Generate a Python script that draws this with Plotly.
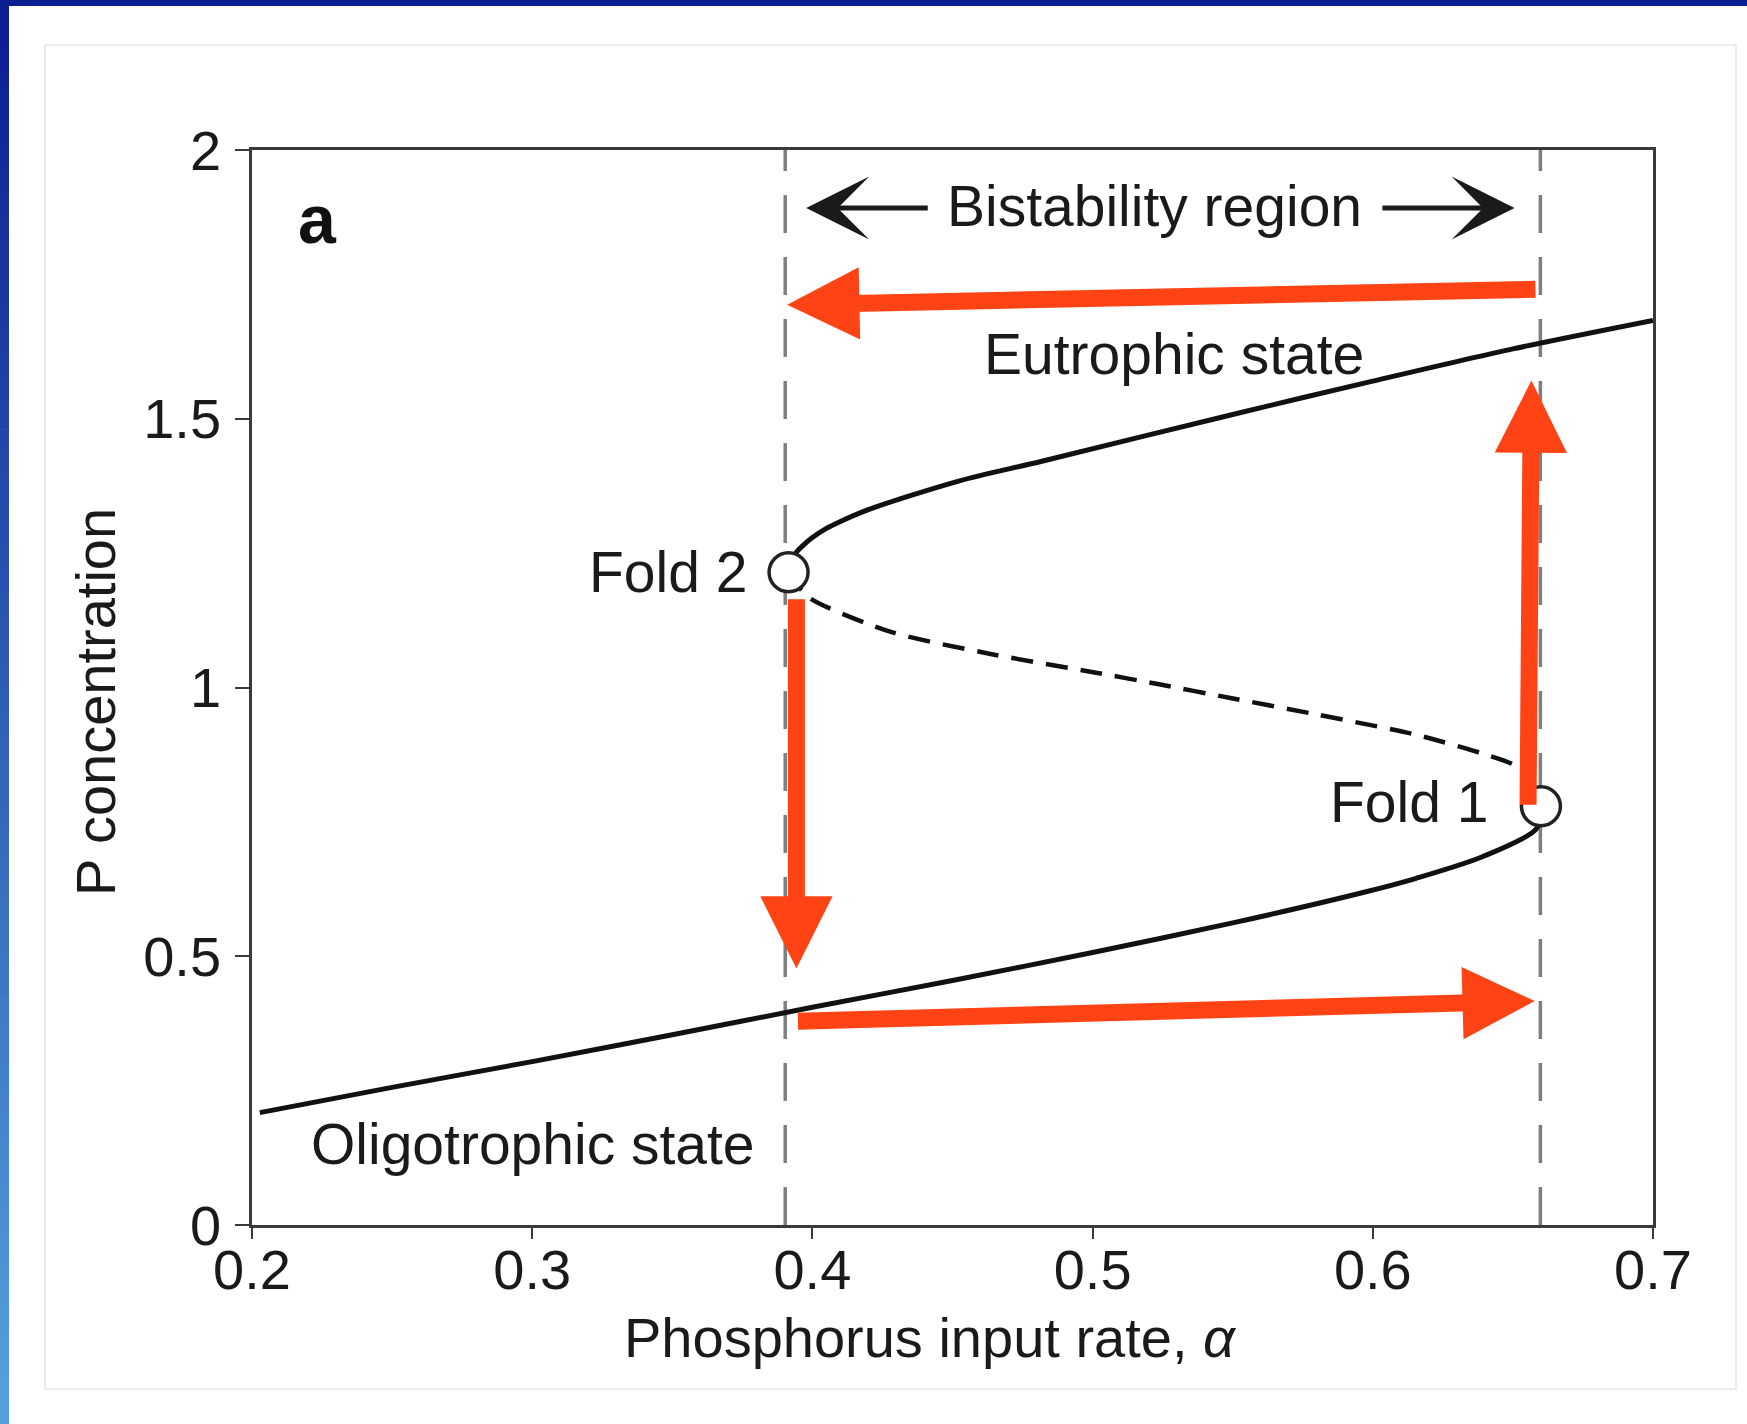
import plotly.graph_objects as go

# ---------------- data ----------------
lower_x = [0.2028, 0.25, 0.30, 0.35, 0.40, 0.45, 0.50, 0.55, 0.5976, 0.6155, 0.6391, 0.6584, 0.6600]
lower_y = [0.209, 0.256, 0.304, 0.354, 0.405, 0.455, 0.507, 0.562, 0.620, 0.645, 0.685, 0.737, 0.779]

upper_x = [0.3915, 0.3925, 0.3945, 0.397, 0.40, 0.405, 0.41, 0.42, 0.4522, 0.4819, 0.55, 0.60, 0.65, 0.70]
upper_y = [1.2145, 1.236, 1.253, 1.266, 1.279, 1.296, 1.309, 1.331, 1.384, 1.421, 1.508, 1.570, 1.630, 1.683]

middle_x = [0.3915, 0.3986, 0.4283, 0.464, 0.4997, 0.5237, 0.5487, 0.5798, 0.6155, 0.6391, 0.6523, 0.6600]
middle_y = [1.2145, 1.168, 1.103, 1.062, 1.029, 1.006, 0.981, 0.950, 0.912, 0.877, 0.850, 0.779]

fold_x = [0.3915, 0.6600]
fold_y = [1.2145, 0.779]
fold_labels = ["Fold 2", "Fold 1"]

bistab_bounds = [0.3903, 0.6598]

# red hysteresis arrows: (tail x, tail y, head x, head y)
red_tail_x = [0.6586, 0.6554, 0.3943, 0.3943]
red_tail_y = [1.741, 0.779, 1.167, 0.379]
red_head_x = [0.391, 0.6566, 0.3943, 0.6578]
red_head_y = [1.712, 1.571, 0.477, 0.4166]

x_ticks = [0.2, 0.3, 0.4, 0.5, 0.6, 0.7]
x_tick_text = ["0.2", "0.3", "0.4", "0.5", "0.6", "0.7"]
y_ticks = [0, 0.5, 1, 1.5, 2]
y_tick_text = ["0", "0.5", "1", "1.5", "2"]

# ---------------- figure geometry ----------------
FW, FH = 1747, 1424
L, R, T, B = 252, 1653, 150, 1225
PW, PH = R - L, B - T

def px(p):
    return (p - L) / PW

def py(p):
    return (B - p) / PH

FONT = "Liberation Sans, Arial, Helvetica, sans-serif"
RED = "#FF4314"
INK = "#1a1a1a"
TXT = 57

fig = go.Figure()

# vertical dashed boundaries of bistability region
for bx in bistab_bounds:
    fig.add_trace(go.Scatter(x=[bx, bx], y=[0, 2], mode="lines",
                             line=dict(color="#7f7f7f", width=3.5, dash="38px,24px"),
                             hoverinfo="skip", showlegend=False))

fig.add_trace(go.Scatter(x=lower_x, y=lower_y, mode="lines",
                         line=dict(color="#111111", width=5, shape="spline", smoothing=0.8),
                         showlegend=False))
fig.add_trace(go.Scatter(x=upper_x, y=upper_y, mode="lines",
                         line=dict(color="#111111", width=5, shape="spline", smoothing=0.8),
                         showlegend=False))
fig.add_trace(go.Scatter(x=middle_x, y=middle_y, mode="lines",
                         line=dict(color="#111111", width=4.5, dash="22px,13px",
                                   shape="spline", smoothing=0.7),
                         showlegend=False))
fig.add_trace(go.Scatter(x=fold_x, y=fold_y, mode="markers",
                         marker=dict(size=39, color="white", line=dict(color="#222222", width=3.5)),
                         showlegend=False))

annotations = []

# red arrows
for tx, ty, hx, hy in zip(red_tail_x, red_tail_y, red_head_x, red_head_y):
    annotations.append(dict(x=hx, y=hy, ax=tx, ay=ty, xref="x", yref="y",
                            axref="x", ayref="y", text="", showarrow=True,
                            arrowhead=2, arrowwidth=17, arrowsize=0.85,
                            arrowcolor=RED, standoff=0, startstandoff=0))

# bistability region arrows and label
annotations.append(dict(x=0.3978, y=1.892, ax=0.4417, ay=1.892, xref="x", yref="y",
                        axref="x", ayref="y", text="", showarrow=True, arrowhead=3,
                        arrowwidth=5, arrowsize=2.1, arrowcolor=INK))
annotations.append(dict(x=0.6506, y=1.892, ax=0.6029, ay=1.892, xref="x", yref="y",
                        axref="x", ayref="y", text="", showarrow=True, arrowhead=3,
                        arrowwidth=5, arrowsize=2.1, arrowcolor=INK))
annotations.append(dict(x=0.522, y=1.896, xref="x", yref="y", text="Bistability region",
                        showarrow=False, font=dict(family=FONT, size=TXT, color=INK)))

annotations.append(dict(x=0.5292, y=1.621, xref="x", yref="y", text="Eutrophic state",
                        showarrow=False, font=dict(family=FONT, size=TXT, color=INK)))
annotations.append(dict(x=0.3003, y=0.151, xref="x", yref="y", text="Oligotrophic state",
                        showarrow=False, font=dict(family=FONT, size=TXT, color=INK)))
annotations.append(dict(x=0.3772, y=fold_y[0], xref="x", yref="y", text=fold_labels[0],
                        xanchor="right", showarrow=False,
                        font=dict(family=FONT, size=TXT, color=INK)))
annotations.append(dict(x=0.6420, y=0.7876, xref="x", yref="y", text=fold_labels[1],
                        xanchor="right", showarrow=False,
                        font=dict(family=FONT, size=TXT, color=INK)))
annotations.append(dict(x=0.2235, y=1.871, xref="x", yref="y", text="<b>a</b>",
                        showarrow=False, font=dict(family=FONT, size=68, color="#111111")))

# axis titles
annotations.append(dict(x=px(930), y=py(1337), xref="paper", yref="paper",
                        xanchor="center", yanchor="middle",
                        text="Phosphorus input rate, <i>α</i>", showarrow=False,
                        font=dict(family=FONT, size=56, color=INK)))
annotations.append(dict(x=px(95), y=py(702), xref="paper", yref="paper",
                        xanchor="center", yanchor="middle",
                        text="P concentration", textangle=-90, showarrow=False,
                        font=dict(family=FONT, size=56, color=INK)))

shapes = []
# inner light panel border
shapes.append(dict(type="rect", xref="paper", yref="paper",
                   x0=px(45), x1=px(1736), y0=py(1389), y1=py(45),
                   line=dict(color="#e6e6e6", width=1.5), fillcolor="rgba(0,0,0,0)", layer="below"))
# top navy bar
shapes.append(dict(type="rect", xref="paper", yref="paper",
                   x0=px(0), x1=px(FW), y0=py(6), y1=py(0),
                   line=dict(width=0), fillcolor="#0b1e92"))
# left gradient bar
N = 60
c0 = (11, 30, 146)
c1 = (85, 160, 220)
for i in range(N):
    t = i / (N - 1)
    col = "rgb(%d,%d,%d)" % tuple(int(round(a + (b - a) * t)) for a, b in zip(c0, c1))
    y0p = FH * i / N
    y1p = FH * (i + 1) / N + 1
    shapes.append(dict(type="rect", xref="paper", yref="paper",
                       x0=px(0), x1=px(9), y0=py(y1p), y1=py(y0p),
                       line=dict(width=0), fillcolor=col))

fig.update_layout(
    width=FW, height=FH,
    margin=dict(l=L, r=FW - R, t=T, b=FH - B, pad=0),
    paper_bgcolor="white", plot_bgcolor="white",
    showlegend=False,
    annotations=annotations,
    shapes=shapes,
    font=dict(family=FONT, color=INK),
)

axis_common = dict(showgrid=False, zeroline=False, showline=True, linecolor="#3a3a3a",
                   linewidth=2.5, mirror=True, ticks="outside", tickwidth=2,
                   tickcolor="#3a3a3a", tickfont=dict(family=FONT, size=56, color=INK))

fig.update_xaxes(range=[0.2, 0.7], tickvals=x_ticks, ticktext=x_tick_text,
                 ticklen=11, ticklabelstandoff=-17, **axis_common)
fig.update_yaxes(range=[0, 2], tickvals=y_ticks, ticktext=y_tick_text,
                 ticklen=14, ticklabelstandoff=3, **axis_common)

fig.write_html("out.html", config={"displayModeBar": False},
               post_script="document.body.style.margin='0px';document.body.style.overflow='hidden';")
